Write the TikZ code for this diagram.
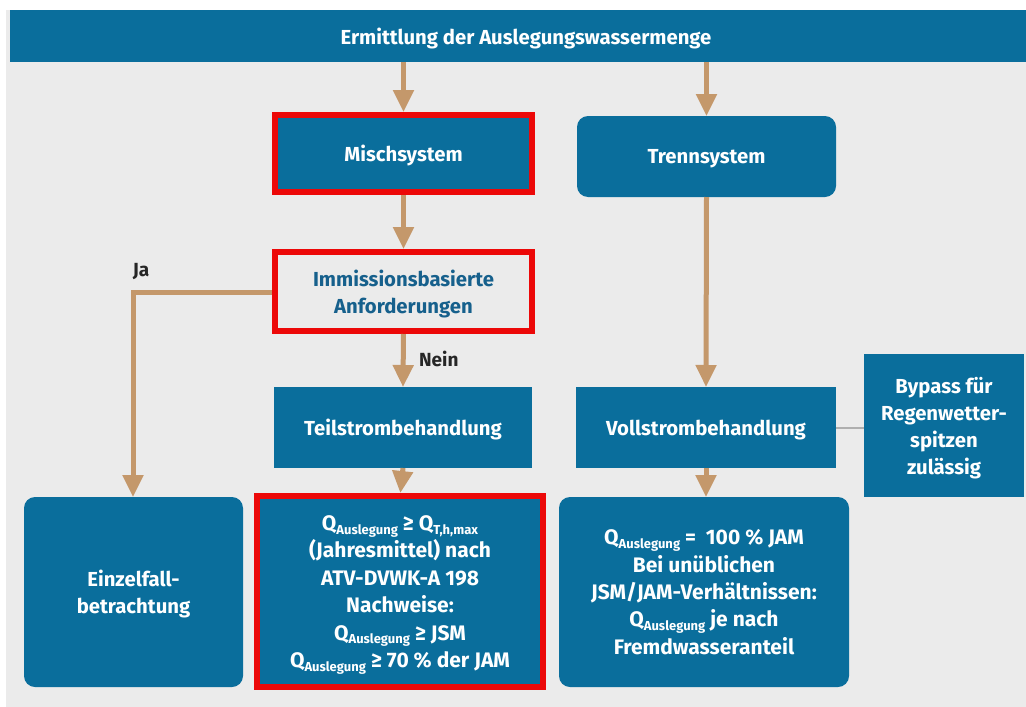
\documentclass[tikz,border=0pt]{standalone}
\usepackage{fontspec}
\setmainfont{Fira Sans}
\usetikzlibrary{arrows.meta}
\definecolor{boxblue}{RGB}{10,110,156}
\definecolor{panel}{RGB}{235,235,235}
\definecolor{flow}{RGB}{196,152,107}
\definecolor{mark}{RGB}{236,8,8}
\definecolor{inkblue}{RGB}{22,96,140}
\definecolor{linkgray}{RGB}{175,175,175}
\newcommand{\Qidx}[1]{Q\raisebox{-0.35ex}{\fontsize{13}{13}\selectfont #1}}
\begin{document}
\begin{tikzpicture}[x=1pt,y=-1pt,
  box/.style={fill=boxblue,text=white,font=\bfseries\fontsize{20.3}{27}\selectfont,
    align=center,inner sep=0pt,outer sep=0pt,text depth=0pt},
  roundbox/.style={box,rounded corners=11pt},
  bigtext/.style={font=\bfseries\fontsize{21}{27.4}\selectfont},
  framed/.style={draw=mark,line width=6pt},
  flowarrow/.style={draw=flow,line width=5pt,-{Triangle[width=20pt,length=22pt]}},
  lbl/.style={font=\bfseries\fontsize{19}{20}\selectfont,text=black!85}]
\useasboundingbox (0,0) rectangle (1026,707);
\fill[white] (0,0) rectangle (1026,707);
\fill[panel] (6,10) rectangle (1026,707);

% header bar
\node[box,minimum width=1016pt,minimum height=52pt] (head) at (518,36)
  {\hspace*{16pt}Ermittlung der Auslegungswassermenge};

% upper row
\node[box,framed,minimum width=257pt,minimum height=77pt] (misch) at (403.5,153.5) {Mischsystem};
\node[roundbox,minimum width=259pt,minimum height=81pt] (trenn) at (706.5,156.5) {Trennsystem};
\node[box,framed,fill=panel,text=inkblue,minimum width=257pt,minimum height=79pt] (imm) at (403.5,291.5)
  {Immissionsbasierte\\Anforderungen};

% treatment row
\node[box,minimum width=258pt,minimum height=81pt] (teil) at (403,427.5) {Teilstrombehandlung};
\node[box,minimum width=260pt,minimum height=81pt] (voll) at (706,427.5) {Vollstrombehandlung};
\node[box,minimum width=160pt,minimum height=143pt] (bypass) at (944,425.5)
  {Bypass für\\Regenwetter-\\spitzen\\zulässig};

% result row
\node[roundbox,minimum width=219pt,minimum height=190pt] (einzel) at (133.5,592)
  {Einzelfall-\\betrachtung};
\node[box,framed,bigtext,minimum width=286pt,minimum height=191pt] (mid) at (400,591.5)
  {\Qidx{Auslegung} ≥ \Qidx{T,h,max}\\(Jahresmittel) nach\\ATV-DVWK-A 198\\Nachweise:\\
   \Qidx{Auslegung} ≥ JSM\\\Qidx{Auslegung} ≥ 70 \% der JAM};
\node[roundbox,bigtext,minimum width=290pt,minimum height=190pt] (res) at (704,592)
  {\Qidx{Auslegung} = \ 100 \% JAM\\Bei unüblichen\\JSM/JAM-Verhältnissen:\\
   \Qidx{Auslegung} je nach\\Fremdwasseranteil};

% connectors
\draw[flowarrow,shorten >=3pt] (head.south -| misch) -- (misch.north);
\draw[flowarrow] (head.south -| trenn) -- (trenn.north);
\draw[flowarrow,shorten <=3pt,shorten >=3pt] (misch.south) -- (imm.north);
\draw[flowarrow,shorten <=3pt] (imm.south) -- (teil.north)
  node[lbl,pos=0.5,anchor=west,xshift=10pt] (nein) {Nein};
\coordinate (jaknee) at (133,292);
\draw[flowarrow,shorten <=3pt] (imm.west |- jaknee) -- (jaknee) -- (einzel.north -| jaknee);
\node[lbl] (ja) at (141,272) {Ja};
\draw[flowarrow] (trenn.south) -- (voll.north);
\draw[flowarrow,shorten >=3pt] (teil.south) -- (mid.north);
\draw[flowarrow] (voll.south) -- (voll.south |- res.north);
\draw[linkgray,line width=2pt] (voll.east) -- (bypass.west |- voll.east);
\end{tikzpicture}
\end{document}
